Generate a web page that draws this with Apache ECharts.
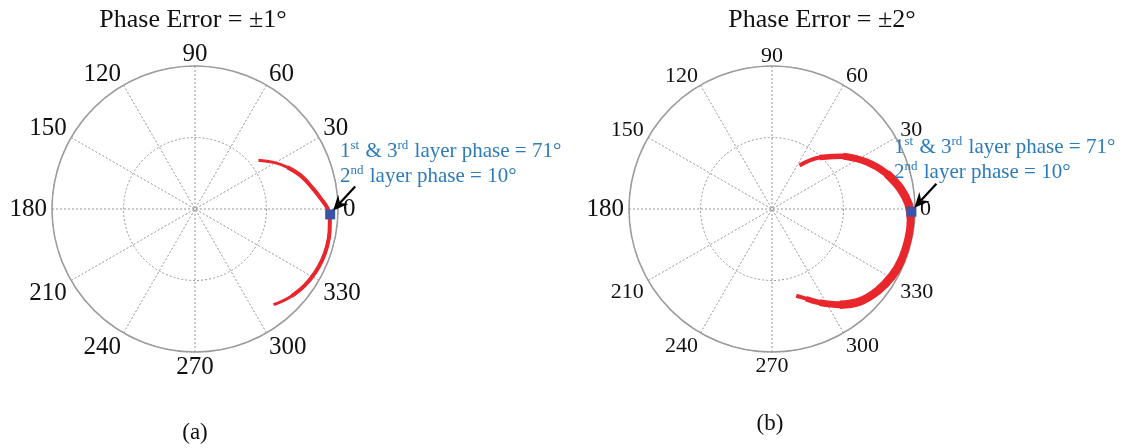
<!DOCTYPE html>
<html>
<head>
<meta charset="utf-8">
<script src="https://cdn.jsdelivr.net/npm/echarts@6/dist/echarts.min.js"></script>
<style>
html, body { margin: 0; background: #fff; }
#chart { width: 1122px; height: 448px; }
</style>
</head>
<body>
<div id="chart"></div>
<script>
// angle ticks (degrees) and radius ticks
var angleTicks = [0, 30, 60, 90, 120, 150, 180, 210, 240, 270, 300, 330];
var radiusTicks = [0, 0.5, 1];

// phase error traces, [radius, angle]
var arcA = [
    [0.56, 37.6], [0.64, 30.6], [0.71, 24.2], [0.78, 17.0], [0.84, 9.5],
    [0.89, 4.0], [0.925, 0.5], [0.945, 356], [0.955, 350], [0.96, 344],
    [0.958, 338], [0.95, 332], [0.935, 325], [0.91, 318], [0.885, 313], [0.865, 309.4]
];
var arcB = [
    [0.36, 57.7], [0.49, 47.2], [0.62, 36.6], [0.74, 26.4], [0.84, 17.1],
    [0.91, 9.0], [0.955, 2.2], [0.975, 355.3], [0.978, 347.5], [0.975, 339],
    [0.962, 331], [0.935, 322.3], [0.89, 313.2], [0.82, 305.3], [0.735, 297],
    [0.67, 290.8], [0.63, 285.6]
];
// design point
var pointA = [[0.946, 357.7]];
var pointB = [[0.975, 358.9]];

var titles = ['Phase Error = \u00b11\u00b0', 'Phase Error = \u00b12\u00b0'];
var panelTags = ['(a)', '(b)'];
var noteLines = ['1{sup|st} & 3{sup|rd} layer phase = 71\u00b0', '2{sup|nd} layer phase = 10\u00b0'];

var serif = '"Liberation Serif", "DejaVu Serif", serif';
var gridColor = '#949494';
var noteColor = '#2c7bbb';
var red = '#e8262b';

var angleAxisFor = function (idx, size) {
    return {
        polarIndex: idx,
        type: 'value',
        min: angleTicks[0],
        max: 360,
        interval: angleTicks[1] - angleTicks[0],
        startAngle: 0,
        clockwise: false,
        axisLine: { show: true, lineStyle: { color: '#9c9c9c', width: 1.5 } },
        axisTick: { show: false },
        axisLabel: {
            margin: 5,
            color: '#111',
            fontFamily: serif,
            fontSize: size,
            lineHeight: size - 4,
            formatter: function (v) {
                if (idx === 1 && v === 180) return '{big|180}';
                // upper half labels sit a little closer to the rim
                if (v > 0 && v < 180) return '{up|' + v + '}';
                return String(v);
            },
            rich: {
                big: { fontSize: 25, lineHeight: 21, fontFamily: serif, color: '#111' },
                up: { fontSize: size, lineHeight: size - 12, fontFamily: serif, color: '#111' }
            }
        },
        splitLine: { show: true, lineStyle: { color: gridColor, type: [2, 2], width: 1 } }
    };
};

var radiusAxisFor = function (idx) {
    return {
        polarIndex: idx,
        type: 'value',
        min: radiusTicks[0],
        max: radiusTicks[radiusTicks.length - 1],
        interval: radiusTicks[1],
        axisLine: { show: false },
        axisTick: { show: false },
        axisLabel: { show: false },
        splitLine: { show: true, lineStyle: { color: gridColor, type: [2, 2], width: 1 } }
    };
};

var trace = function (idx, data, width) {
    return {
        type: 'line', coordinateSystem: 'polar', polarIndex: idx,
        data: data, smooth: 0.4, showSymbol: false, silent: true,
        lineStyle: { color: red, width: width, cap: 'butt', join: 'round' }
    };
};

var myChart = echarts.init(document.getElementById('chart'));
var option = {
    animation: false,
    polar: [
        { center: [195, 209], radius: 143 },
        { center: [772, 209], radius: 143 }
    ],
    angleAxis: [angleAxisFor(0, 25), angleAxisFor(1, 22)],
    radiusAxis: [radiusAxisFor(0), radiusAxisFor(1)],
    series: [
        // band gets thicker towards the middle of the trace
        trace(0, arcA, 3),
        trace(0, arcA.slice(2, 14), 4),
        trace(1, arcB, 4),
        trace(1, arcB.slice(1, 16), 5.5),
        trace(1, arcB.slice(2, 15), 7),
        trace(1, arcB.slice(4, 14), 8.5),
        {
            type: 'scatter', coordinateSystem: 'polar', polarIndex: 0,
            data: pointA, symbol: 'rect', symbolSize: 10, z: 5,
            itemStyle: { color: '#3a55a8', opacity: 1 }
        },
        {
            type: 'scatter', coordinateSystem: 'polar', polarIndex: 1,
            data: pointB, symbol: 'rect', symbolSize: 10, z: 5,
            itemStyle: { color: '#3a55a8', opacity: 1 }
        }
    ]
};
myChart.setOption(option);

// arrow pointing at the design point
var arrow = function (p, id) {
    var tip = [p[0] + 3, p[1] - 4];
    var tail = [p[0] + 25, p[1] - 28];
    var dx = tip[0] - tail[0], dy = tip[1] - tail[1];
    var len = Math.sqrt(dx * dx + dy * dy);
    var ux = dx / len, uy = dy / len, nx = -uy, ny = ux;
    var L = 15, w = 7;
    var base = [tip[0] - ux * L, tip[1] - uy * L];
    var notch = [tip[0] - ux * (L - 5), tip[1] - uy * (L - 5)];
    return [
        {
            type: 'line', id: id + 'l', z: 100,
            shape: { x1: tail[0], y1: tail[1], x2: notch[0], y2: notch[1] },
            style: { stroke: '#000', lineWidth: 2.2 }
        },
        {
            type: 'polygon', id: id + 'h', z: 100,
            shape: { points: [tip, [base[0] + nx * w, base[1] + ny * w], notch, [base[0] - nx * w, base[1] - ny * w]] },
            style: { fill: '#000' }
        }
    ];
};

var note = function (x, y, id) {
    return {
        type: 'text', id: id, left: x, top: y, z: 100,
        style: {
            text: noteLines.join('\n'),
            fill: noteColor,
            font: '21px ' + serif,
            lineHeight: 25,
            rich: {
                sup: { fontSize: 13, fontFamily: serif, fill: noteColor, verticalAlign: 'top', lineHeight: 25, padding: [0, 1, 10, 0] }
            }
        }
    };
};

var head = function (x, y, txt, id, size) {
    return {
        type: 'text', id: id, x: x, y: y,
        style: { text: txt, fill: '#111', font: size + 'px ' + serif, align: 'center', verticalAlign: 'middle' }
    };
};

var pA = myChart.convertToPixel({ seriesIndex: 6 }, pointA[0]);
var pB = myChart.convertToPixel({ seriesIndex: 7 }, pointB[0]);

var graphics = [
    head(193, 20, titles[0], 't0', 26),
    head(822, 20, titles[1], 't1', 26),
    head(195, 433, panelTags[0], 'g0', 23),
    head(770, 424, panelTags[1], 'g1', 23),
    note(340, 139, 'n0'),
    note(894, 135, 'n1')
].concat(arrow(pA, 'a0')).concat(arrow(pB, 'a1'));

myChart.setOption({ graphic: graphics });
</script>
</body>
</html>
